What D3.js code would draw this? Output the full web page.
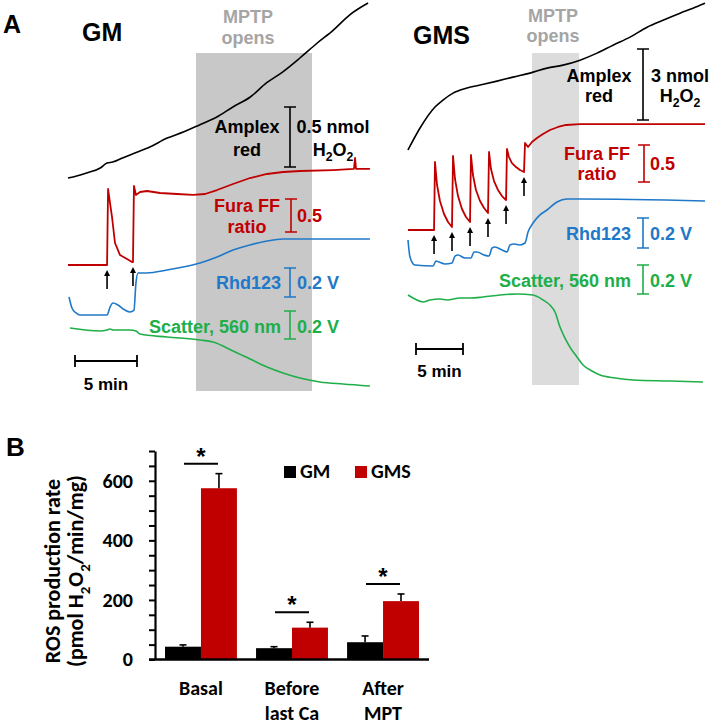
<!DOCTYPE html>
<html>
<head>
<meta charset="utf-8">
<script src="https://cdn.jsdelivr.net/npm/d3@7/dist/d3.min.js"></script>
<style>
body{margin:0;background:#fff;}
svg{display:block;}
.a text{font-family:"Liberation Sans",Arial,Helvetica,sans-serif;font-weight:bold;}
.b text{font-family:Carlito,Lato,"Liberation Sans",sans-serif;font-weight:bold;}
</style>
</head>
<body>
<svg id="fig" width="711" height="727" xmlns="http://www.w3.org/2000/svg"></svg>
<script>
// ================= DATA =================
// ---- Panel A, GM (time in min from start of trace) ----
const gmAmplexTime = [0, 0.7, 1.5, 2.6, 3.15, 3.6, 4.4, 5.2, 6.6, 8.0, 9.3, 10.6, 12.0, 13.3, 14.7, 16.0, 17.3, 18.7, 20.1, 21.4, 22.7, 24.2];
const gmAmplexNmol = [0, 0.017, 0.042, 0.083, 0.125, 0.133, 0.167, 0.2, 0.258, 0.333, 0.383, 0.442, 0.508, 0.592, 0.675, 0.792, 0.883, 1.0, 1.125, 1.233, 1.358, 1.458];

const gmFuraTime  = [0, 3.15, 3.23, 3.39, 3.55, 3.79, 4.19, 4.76, 5.16, 5.24, 5.32, 5.48, 5.81, 6.37, 7.42, 8.79, 10.08, 11.05, 12.02, 13.31, 14.68, 16.05, 17.34, 18.71, 21.37, 23.06, 23.15, 23.23, 24.35];
const gmFuraRatio = [0, 0, 1.152, 0.939, 0.727, 0.333, 0.152, 0.091, 0.045, 0.045, 1.197, 1.061, 1.106, 1.121, 1.091, 1.076, 1.061, 1.076, 1.136, 1.227, 1.318, 1.379, 1.409, 1.424, 1.439, 1.455, 1.621, 1.455, 1.455];

const gmRhdTime = [0.08, 0.32, 0.65, 0.97, 3.15, 3.39, 3.63, 4.03, 4.6, 5.0, 5.32, 5.48, 5.65, 6.37, 7.98, 9.27, 10.65, 12.02, 13.31, 14.68, 16.05, 17.34, 18.71, 24.35];
const gmRhdVolt = [0.124, 0.048, 0.014, 0, 0, 0.055, 0.083, 0.069, 0.034, 0.021, 0.034, 0.221, 0.290, 0.290, 0.310, 0.331, 0.359, 0.400, 0.448, 0.483, 0.510, 0.524, 0.524, 0.524];

const gmScatTime = [0.16, 2.58, 3.15, 3.39, 3.63, 5.0, 5.48, 5.81, 7.98, 10.65, 11.69, 13.31, 14.68, 16.05, 17.34, 18.71, 20.32, 22.18, 24.35];
const gmScatVolt = [0.414, 0.393, 0.4, 0.407, 0.4, 0.4, 0.393, 0.371, 0.35, 0.329, 0.314, 0.25, 0.193, 0.136, 0.093, 0.057, 0.029, 0.014, 0];

const gmCaTimes = [3.15, 5.24];
const gmMptpWindow = [10.32, 19.68];
const gmBarValues = [0.5, 0.5, 0.2, 0.2];

// ---- Panel A, GMS ----
const gmsAmplexTime = [0, 1.28, 2.87, 3.72, 4.79, 6.28, 7.66, 9.47, 11.17, 12.98, 14.79, 16.49, 18.3, 20.11, 21.81, 23.62, 25.43, 27.13, 28.94, 30.32, 31.6];
const gmsAmplexNmol = [0, 0.928, 1.814, 2.11, 2.405, 2.616, 2.743, 2.911, 3.08, 3.249, 3.46, 3.586, 3.797, 4.093, 4.43, 4.768, 5.19, 5.485, 5.781, 5.992, 6.203];

const gmsFuraTime = [0, 2.77, 2.87, 3.09, 3.40, 3.83, 4.26, 4.68, 4.79, 5.0, 5.32, 5.74, 6.17, 6.60, 6.70, 6.91, 7.23, 7.66, 8.09, 8.51, 8.62, 8.83, 9.15, 9.57, 10.0, 10.43, 10.53, 10.74, 11.06, 11.49, 11.91, 12.34, 12.45, 12.77, 13.19, 13.72, 14.36, 15.11, 15.96, 16.81, 18.30, 31.6];
const gmsFuraRatio = [0, 0, 0.919, 0.608, 0.392, 0.216, 0.108, 0.041, 1.0, 0.689, 0.459, 0.284, 0.176, 0.108, 1.014, 0.743, 0.541, 0.392, 0.297, 0.230, 1.054, 0.824, 0.662, 0.541, 0.459, 0.405, 1.095, 0.986, 0.905, 0.851, 0.811, 0.784, 1.176, 1.122, 1.189, 1.243, 1.297, 1.351, 1.392, 1.419, 1.432, 1.432];

const gmsRhdTime = [0, 0.21, 0.74, 2.66, 2.98, 3.3, 3.94, 4.68, 5.0, 5.32, 6.06, 6.7, 7.02, 7.34, 8.09, 8.62, 8.94, 9.26, 10.0, 10.53, 10.85, 11.28, 11.91, 12.45, 12.77, 13.3, 14.04, 14.79, 15.85, 16.91, 18.3, 31.6];
const gmsRhdVolt = [0.18, 0.067, 0.013, 0.007, 0.04, 0.033, 0.02, 0.027, 0.073, 0.08, 0.06, 0.06, 0.1, 0.1, 0.08, 0.073, 0.127, 0.133, 0.113, 0.1, 0.147, 0.153, 0.147, 0.16, 0.233, 0.293, 0.347, 0.38, 0.433, 0.453, 0.453, 0.44];

const gmsScatTime = [0, 0.74, 1.6, 2.34, 3.4, 4.15, 5.53, 6.6, 7.98, 9.79, 11.6, 13.3, 14.36, 15.1, 15.64, 16.17, 16.7, 17.23, 17.98, 18.62, 19.57, 20.43, 22.02, 23.94, 27.87, 31.38];
const gmsScatVolt = [0.6, 0.572, 0.552, 0.566, 0.572, 0.566, 0.579, 0.579, 0.586, 0.6, 0.607, 0.6, 0.566, 0.531, 0.483, 0.379, 0.303, 0.241, 0.172, 0.117, 0.076, 0.048, 0.028, 0.014, 0.007, 0];

const gmsCaTimes = [2.77, 4.68, 6.60, 8.51, 10.43, 12.34];
const gmsMptpWindow = [13.19, 18.19];
const gmsBarValues = [3, 0.5, 0.2, 0.2];

const timeBarMin = 5;
const barUnits = ["nmol", "", "V", "V"];

// ---- Panel B ----
const categories = ["Basal", "Before last Ca", "After MPT"];
const seriesNames = ["GM", "GMS"];
const gmMeans = [43, 38, 58];
const gmErrs  = [6, 5, 21];
const gmsMeans = [575, 107, 196];
const gmsErrs  = [49, 18, 24];
const yTickLabels = [0, 200, 400, 600];
const yMax = 700, yMinorStep = 50;

// ================= DRAWING =================
const svg = d3.select("#fig");
const RED = "#c00000", BLUE = "#1f78c8", GREEN = "#20ae49", GRAYTXT = "#a5a5a5";

function appendParts(text, parts, fs) {
  let shifted = false;
  parts.forEach(([s, sub]) => {
    const t = text.append("tspan").text(s);
    if (sub) {
      t.attr("font-size", fs * 0.68);
      if (!shifted) { t.attr("dy", fs * 0.3); shifted = true; }
    } else if (shifted) { t.attr("dy", -fs * 0.3); shifted = false; }
  });
}
const h2o2 = [["H", 0], ["2", 1], ["O", 0], ["2", 1]];

const gA = svg.append("g").attr("class", "a");
gA.append("text").attr("x", 3).attr("y", 33).attr("font-size", 25).text("A");

const FS = 18;
const panels = [
  {
    title: "GM", titleX: 82, titleY: 41, x0: 68, px5: 62,
    mptp: gmMptpWindow, shade: "#c8c8c8", shadeTop: 53, shadeBottom: 391, mptpX: 248, mptpY: [23, 44],
    timeBar: { x: 75, y: 361, textY: 390 },
    ca: gmCaTimes, furaIdx: 1,
    traces: [
      { t: gmAmplexTime, v: gmAmplexNmol, color: "#000", base: 178, barLen: 60, barVal: gmBarValues[0], unit: barUnits[0], barX: 290, barTop: 107, curve: d3.curveMonotoneX,
        left: { lines: ["Amplex", "red"], x: 247, ys: [133, 156], anchor: "middle" },
        right: { x: 333, ys: [133, 156], anchor: "middle", chem: true } },
      { t: gmFuraTime, v: gmFuraRatio, color: RED, base: 265, barLen: 33, barVal: gmBarValues[1], unit: barUnits[1], barX: 291, barTop: 199, width: 1.8,
        left: { lines: ["Fura FF", "ratio"], x: 247, ys: [212, 233], anchor: "middle" },
        right: { x: 297, ys: [222], anchor: "start" } },
      { t: gmRhdTime, v: gmRhdVolt, color: BLUE, base: 315, barLen: 29, barVal: gmBarValues[2], unit: barUnits[2], barX: 290, barTop: 268, curve: d3.curveMonotoneX,
        left: { lines: ["Rhd123"], x: 281, ys: [289], anchor: "end" },
        right: { x: 297, ys: [289], anchor: "start" } },
      { t: gmScatTime, v: gmScatVolt, color: GREEN, base: 386, barLen: 28, barVal: gmBarValues[3], unit: barUnits[3], barX: 290, barTop: 311, curve: d3.curveMonotoneX,
        left: { lines: ["Scatter, 560 nm"], x: 281, ys: [333], anchor: "end" },
        right: { x: 297, ys: [333], anchor: "start" } }
    ]
  },
  {
    title: "GMS", titleX: 413, titleY: 44, x0: 408, px5: 47,
    mptp: gmsMptpWindow, shade: "#dcdcdc", shadeTop: 53, shadeBottom: 385, mptpX: 553, mptpY: [22, 42],
    timeBar: { x: 416, y: 349, textY: 377 },
    ca: gmsCaTimes, furaIdx: 1,
    traces: [
      { t: gmsAmplexTime, v: gmsAmplexNmol, color: "#000", base: 150, barLen: 71, barVal: gmsBarValues[0], unit: barUnits[0], barX: 643, barTop: 49, curve: d3.curveMonotoneX,
        left: { lines: ["Amplex", "red"], x: 599, ys: [82, 102], anchor: "middle" },
        right: { x: 680, ys: [82, 102], anchor: "middle", chem: true } },
      { t: gmsFuraTime, v: gmsFuraRatio, color: RED, base: 230, barLen: 37, barVal: gmsBarValues[1], unit: barUnits[1], barX: 644, barTop: 145, width: 1.8,
        left: { lines: ["Fura FF", "ratio"], x: 597, ys: [160, 180], anchor: "middle" },
        right: { x: 650, ys: [170], anchor: "start" } },
      { t: gmsRhdTime, v: gmsRhdVolt, color: BLUE, base: 267, barLen: 30, barVal: gmsBarValues[2], unit: barUnits[2], barX: 643, barTop: 218, curve: d3.curveMonotoneX,
        left: { lines: ["Rhd123"], x: 631, ys: [240], anchor: "end" },
        right: { x: 650, ys: [240], anchor: "start" } },
      { t: gmsScatTime, v: gmsScatVolt, color: GREEN, base: 382, barLen: 29, barVal: gmsBarValues[3], unit: barUnits[3], barX: 643, barTop: 265, curve: d3.curveMonotoneX,
        left: { lines: ["Scatter, 560 nm"], x: 631, ys: [287], anchor: "end" },
        right: { x: 650, ys: [287], anchor: "start" } }
    ]
  }
];

panels.forEach(p => {
  const g = gA.append("g");
  const x = d3.scaleLinear().domain([0, timeBarMin]).range([p.x0, p.x0 + p.px5]);
  // MPTP shading
  g.append("rect")
    .attr("x", x(p.mptp[0])).attr("y", p.shadeTop)
    .attr("width", x(p.mptp[1]) - x(p.mptp[0])).attr("height", p.shadeBottom - p.shadeTop)
    .attr("fill", p.shade);
  ["MPTP", "opens"].forEach((s, i) => {
    g.append("text").attr("x", p.mptpX).attr("y", p.mptpY[i]).attr("text-anchor", "middle")
      .attr("font-size", FS).attr("fill", GRAYTXT).text(s);
  });
  g.append("text").attr("x", p.titleX).attr("y", p.titleY).attr("font-size", 25).attr("fill", "#000").text(p.title);

  p.traces.forEach(tr => {
    const y = d3.scaleLinear().domain([0, tr.barVal]).range([tr.base, tr.base - tr.barLen]);
    tr.y = y;
    const pts = tr.t.map((t, i) => [t, tr.v[i]]);
    g.append("path").datum(pts)
      .attr("d", d3.line().x(d => x(d[0])).y(d => y(d[1])).curve(tr.curve || d3.curveLinear))
      .attr("fill", "none").attr("stroke", tr.color).attr("stroke-width", tr.width || 1.6)
      .attr("stroke-linejoin", "round");
    // vertical calibration bar
    const y0 = tr.barTop, y1 = tr.barTop + (y(0) - y(tr.barVal));
    const bx = tr.barX;
    g.append("path")
      .attr("d", `M${bx - 6},${y0}H${bx + 6}M${bx},${y0}V${y1}M${bx - 6},${y1}H${bx + 6}`)
      .attr("stroke", tr.color).attr("stroke-width", 1.6).attr("fill", "none");
    // labels
    tr.left.lines.forEach((s, i) => {
      g.append("text").attr("x", tr.left.x).attr("y", tr.left.ys[i]).attr("text-anchor", tr.left.anchor)
        .attr("font-size", FS).attr("fill", tr.color).text(s);
    });
    const valText = tr.unit ? `${tr.barVal} ${tr.unit}` : `${tr.barVal}`;
    g.append("text").attr("x", tr.right.x).attr("y", tr.right.ys[0]).attr("text-anchor", tr.right.anchor)
      .attr("font-size", FS).attr("fill", tr.color).text(valText);
    if (tr.right.chem) {
      const t2 = g.append("text").attr("x", tr.right.x).attr("y", tr.right.ys[1]).attr("text-anchor", tr.right.anchor)
        .attr("font-size", FS).attr("fill", tr.color);
      appendParts(t2, h2o2, FS);
    }
  });

  // Ca addition arrows
  const fura = p.traces[p.furaIdx];
  const bis = d3.bisector(d => d).right;
  p.ca.forEach(ct => {
    const idx = Math.max(0, bis(fura.t, ct + 1e-6) - 1);
    const tip = fura.y(fura.v[idx]) + 5;
    const ax = x(ct);
    g.append("line").attr("x1", ax).attr("x2", ax).attr("y1", tip + 4).attr("y2", tip + 19)
      .attr("stroke", "#000").attr("stroke-width", 1.6);
    g.append("path").attr("d", `M${ax},${tip}L${ax - 3},${tip + 6}L${ax + 3},${tip + 6}Z`).attr("fill", "#000");
  });

  // time calibration bar
  const tb = p.timeBar, tl = x(timeBarMin) - x(0);
  g.append("path")
    .attr("d", `M${tb.x},${tb.y - 6}V${tb.y + 6}M${tb.x},${tb.y}H${tb.x + tl}M${tb.x + tl},${tb.y - 6}V${tb.y + 6}`)
    .attr("stroke", "#000").attr("stroke-width", 1.8).attr("fill", "none");
  g.append("text").attr("x", tb.x + tl / 2).attr("y", tb.textY).attr("text-anchor", "middle")
    .attr("font-size", 17).attr("fill", "#000").text(`${timeBarMin} min`);
});

// ================= PANEL B =================
const gB = svg.append("g").attr("class", "b");
svg.append("text").attr("x", 6).attr("y", 456).attr("font-size", 26)
  .style("font-family", "'Liberation Sans',Arial,sans-serif").style("font-weight", "bold").text("B");

const axisX = 155;
const yB = d3.scaleLinear().domain([0, yMax]).range([659.5, 451]);
const xB = d3.scaleBand().domain(categories).range([axisX, 429]).paddingInner(0.21).paddingOuter(0.11);
const xS = d3.scaleBand().domain(seriesNames).range([0, xB.bandwidth()]);

const rows = categories.map((c, i) => ({
  cat: c,
  vals: [
    { s: "GM", m: gmMeans[i], e: gmErrs[i], color: "#000" },
    { s: "GMS", m: gmsMeans[i], e: gmsErrs[i], color: RED }
  ]
}));

// bars
rows.forEach(r => {
  r.vals.forEach(v => {
    const bx = xB(r.cat) + xS(v.s);
    gB.append("rect").attr("x", bx).attr("y", yB(v.m)).attr("width", xS.bandwidth())
      .attr("height", yB(0) - yB(v.m)).attr("fill", v.color);
    const cx = bx + xS.bandwidth() / 2;
    gB.append("line").attr("x1", cx).attr("x2", cx).attr("y1", yB(v.m)).attr("y2", yB(v.m + v.e))
      .attr("stroke", "#000").attr("stroke-width", 1.6);
    gB.append("line").attr("x1", cx - 3.5).attr("x2", cx + 3.5).attr("y1", yB(v.m + v.e)).attr("y2", yB(v.m + v.e))
      .attr("stroke", "#000").attr("stroke-width", 1.6);
  });
  // significance
  const gc = xB(r.cat) + xB.bandwidth() / 2;
  const top = r.vals[1];
  const ly = yB(top.m + top.e) - 10;
  gB.append("line").attr("x1", gc - 17).attr("x2", gc + 17).attr("y1", ly).attr("y2", ly)
    .attr("stroke", "#000").attr("stroke-width", 2);
  gB.append("text").attr("x", gc).attr("y", ly + 1).attr("text-anchor", "middle").attr("font-size", 24)
    .style("font-family", "'Liberation Sans',Arial,sans-serif").text("*");
});

// y axis
const yAxis = d3.axisLeft(yB).tickValues(d3.range(0, yMax + 1, yMinorStep)).tickSize(6).tickSizeOuter(0)
  .tickPadding(16).tickFormat(d => yTickLabels.includes(d) ? d : "");
const ya = gB.append("g").attr("transform", `translate(${axisX},0)`).call(yAxis);
ya.select(".domain").attr("stroke-width", 2.2).attr("stroke", "#000");
ya.selectAll(".tick line").attr("stroke-width", 2).attr("stroke", "#000");
ya.selectAll(".tick text").attr("font-size", 20).attr("fill", "#000");

// x axis line
gB.append("line").attr("x1", axisX - 6).attr("x2", xB.range()[1]).attr("y1", yB(0)).attr("y2", yB(0))
  .attr("stroke", "#000").attr("stroke-width", 2.4);

// category labels
categories.forEach(c => {
  const sp = c.indexOf(" ");
  const lines = sp < 0 ? [c] : [c.slice(0, sp), c.slice(sp + 1)];
  lines.forEach((s, i) => {
    gB.append("text").attr("x", xB(c) + xB.bandwidth() / 2).attr("y", 695 + i * 25)
      .attr("text-anchor", "middle").attr("font-size", 20).attr("fill", "#000").text(s);
  });
});

// legend
const legX = [284, 355];
seriesNames.forEach((s, i) => {
  gB.append("rect").attr("x", legX[i]).attr("y", 466).attr("width", 12).attr("height", 12)
    .attr("fill", i === 0 ? "#000" : RED);
  gB.append("text").attr("x", legX[i] + 16).attr("y", 478).attr("font-size", 20).attr("fill", "#000").text(s);
});

// y title
const yt = gB.append("g").attr("transform", "translate(0,571) rotate(-90)");
yt.append("text").attr("x", 0).attr("y", 60).attr("text-anchor", "middle").attr("font-size", 22)
  .attr("fill", "#000").text("ROS production rate");
const yt2 = yt.append("text").attr("x", 0).attr("y", 83).attr("text-anchor", "middle").attr("font-size", 22).attr("fill", "#000");
appendParts(yt2, [["(pmol H", 0], ["2", 1], ["O", 0], ["2", 1], ["/min/mg)", 0]], 22);
</script>
</body>
</html>
